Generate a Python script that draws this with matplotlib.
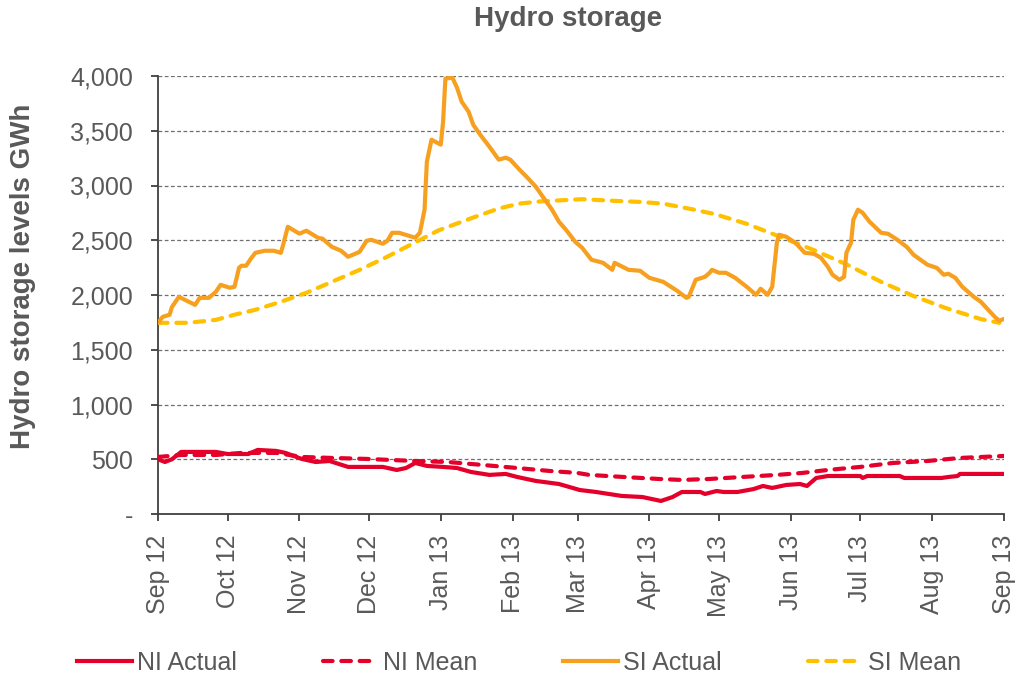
import numpy as np
import pandas as pd
import matplotlib
matplotlib.use("Agg")
import matplotlib.pyplot as plt
import matplotlib.dates as mdates
from matplotlib.ticker import FuncFormatter
from matplotlib.lines import Line2D

plt.rcParams['font.family'] = ['Liberation Sans', 'DejaVu Sans']

START = pd.Timestamp("2012-09-01")

# ---- data: day offsets from 1 Sep 2012 and GWh values ----
si_actual_day = [0, 2, 5, 6, 9, 16, 18, 22, 25, 27, 31, 33, 35, 36, 38, 40, 42, 46, 50, 53, 54, 56,
                 61, 64, 69, 71, 75, 79, 82, 86, 87, 90, 92, 97, 99, 101, 104, 111, 113, 115, 116,
                 118, 122, 123, 124, 127, 129, 131, 134, 136, 139, 143, 147, 150, 152, 156, 159,
                 163, 166, 170, 173, 176, 180, 183, 187, 192, 196, 197, 203, 208, 212, 218, 224,
                 228, 229, 232, 236, 238, 239, 242, 245, 249, 254, 258, 260, 263, 265, 267, 268,
                 271, 275, 279, 283, 286, 289, 291, 294, 296, 297, 299, 300, 302, 304, 307, 312,
                 315, 319, 323, 326, 332, 336, 339, 341, 344, 347, 352, 355, 361, 363, 365]
si_actual = [1746, 1800, 1820, 1890, 1983, 1910, 1974, 1974, 2030, 2093, 2066, 2075, 2250, 2267,
             2267, 2330, 2385, 2404, 2404, 2385, 2459, 2623, 2560, 2587, 2523, 2514, 2440, 2404,
             2349, 2385, 2395, 2495, 2504, 2468, 2495, 2568, 2568, 2523, 2568, 2779, 3217, 3418,
             3373, 3583, 3976, 3985, 3894, 3766, 3674, 3555, 3464, 3354, 3236, 3254, 3236, 3144,
             3080, 2989, 2898, 2779, 2669, 2596, 2486, 2431, 2322, 2294, 2230, 2294, 2230, 2221,
             2157, 2120, 2038, 1974, 1983, 2139, 2166, 2203, 2230, 2203, 2203, 2157, 2075, 2002,
             2057, 2002, 2075, 2477, 2550, 2532, 2477, 2386, 2376, 2340, 2258, 2185, 2139, 2166,
             2386, 2477, 2687, 2779, 2751, 2669, 2568, 2559, 2504, 2440, 2367, 2276, 2248, 2185,
             2194, 2157, 2075, 1983, 1938, 1801, 1764, 1782]

si_mean_day = [0, 13, 25, 33, 42, 53, 64, 75, 87, 98, 110, 121, 135, 147, 156, 165, 183, 197, 208,
               218, 230, 240, 254, 268, 283, 297, 312, 326, 340, 355, 363]
si_mean = [1746, 1746, 1773, 1820, 1865, 1938, 2020, 2120, 2230, 2340, 2470, 2590, 2700, 2790,
           2835, 2855, 2875, 2860, 2850, 2834, 2785, 2740, 2650, 2535, 2410, 2280, 2120, 1990,
           1880, 1780, 1746]

ni_actual_day = [0, 3, 6, 10, 25, 30, 39, 43, 51, 55, 62, 68, 74, 82, 88, 97, 103, 107, 111, 116,
                 123, 129, 135, 143, 150, 155, 163, 173, 182, 189, 200, 209, 217, 222, 226, 234,
                 236, 241, 244, 250, 257, 261, 265, 271, 277, 280, 284, 289, 303, 304, 306, 320,
                 322, 338, 341, 345, 346, 365]
ni_actual = [500, 475, 500, 567, 567, 548, 548, 585, 576, 558, 503, 475, 484, 430, 430, 430, 402,
             420, 466, 439, 430, 420, 384, 357, 366, 338, 302, 274, 219, 201, 165, 155, 119, 155,
             201, 201, 183, 210, 201, 201, 228, 256, 238, 265, 274, 256, 329, 347, 347, 329, 347,
             347, 329, 329, 338, 347, 366, 366]

ni_mean_day = [0, 10, 25, 36, 51, 62, 75, 90, 111, 125, 140, 155, 169, 181, 186, 201, 216, 226,
               238, 252, 267, 278, 289, 303, 317, 332, 346, 365]
ni_mean = [521, 539, 539, 558, 558, 521, 512, 503, 484, 475, 448, 420, 393, 375, 357, 338, 320,
           311, 320, 338, 357, 375, 402, 430, 466, 484, 512, 530]

y_ticks = [0, 500, 1000, 1500, 2000, 2500, 3000, 3500, 4000]
series_labels = ["NI Actual", "NI Mean", "SI Actual", "SI Mean"]

# ---- styles ----
GREY = "#595959"
RED = "#E4002B"
ORANGE = "#F7A01F"
YELLOW = "#FFC000"
DASH = (0, (2.3, 2.1))


def to_dates(days):
    return START + pd.to_timedelta(days, unit="D")


fig = plt.figure(figsize=(10.17, 6.76), dpi=100)
ax = fig.add_axes([158 / 1017, 1 - 514 / 676, (1004 - 158) / 1017, (514 - 76) / 676])

lw = 3.0
ax.plot(to_dates(ni_actual_day), ni_actual, color=RED, lw=lw, solid_capstyle="round",
        solid_joinstyle="round", zorder=4)
ax.plot(to_dates(ni_mean_day), ni_mean, color=RED, lw=lw, ls=DASH,
        dash_capstyle="round", zorder=3)
ax.plot(to_dates(si_actual_day), si_actual, color=ORANGE, lw=lw, solid_capstyle="round",
        solid_joinstyle="round", zorder=4)
ax.plot(to_dates(si_mean_day), si_mean, color=YELLOW, lw=lw, ls=DASH,
        dash_capstyle="round", zorder=3)

ax.set_xlim(START, pd.Timestamp("2013-09-01"))
ax.set_ylim(0, 4000)
ax.set_yticks(y_ticks)
ax.yaxis.set_major_formatter(FuncFormatter(lambda v, p: "-" if v == 0 else f"{int(v):,}"))
ax.xaxis.set_major_locator(mdates.MonthLocator())
ax.xaxis.set_major_formatter(mdates.DateFormatter("%b %y"))

ax.grid(axis="y", color="#6f6f6f", ls=(0, (3, 2)), lw=0.9)
ax.set_axisbelow(True)
for s in ["top", "right"]:
    ax.spines[s].set_visible(False)
for s in ["left", "bottom"]:
    ax.spines[s].set_color("#404040")
    ax.spines[s].set_linewidth(1.3)

ax.tick_params(axis="y", direction="out", length=5, width=1.3, color="#404040",
               labelsize=18, labelcolor=GREY, pad=13)
ax.tick_params(axis="x", direction="out", length=5, width=1.3, color="#404040",
               labelsize=18, labelcolor=GREY, labelrotation=90, pad=10)

fig.text(23 / 1017, 1 - 276 / 676, "Hydro storage levels GWh", rotation=90, ha="center",
         va="center", fontsize=20, fontweight="bold", color=GREY)
fig.text(568 / 1017, 1 - 19 / 676, "Hydro storage", ha="center", va="center",
         fontsize=20, fontweight="bold", color=GREY)

handles = [
    Line2D([], [], color=RED, lw=3.0),
    Line2D([], [], color=RED, lw=3.0, ls=DASH, dash_capstyle="round"),
    Line2D([], [], color=ORANGE, lw=3.0),
    Line2D([], [], color=YELLOW, lw=3.0, ls=DASH, dash_capstyle="round"),
]
leg = fig.legend(handles, series_labels, loc="center", bbox_to_anchor=(519 / 1017, 1 - 663 / 676),
                 ncol=4, frameon=False, fontsize=18, handlelength=2.2, handletextpad=0.2,
                 columnspacing=3.45, borderpad=0, borderaxespad=0)
for t in leg.get_texts():
    t.set_color(GREY)

fig.savefig("out.png", dpi=100)
